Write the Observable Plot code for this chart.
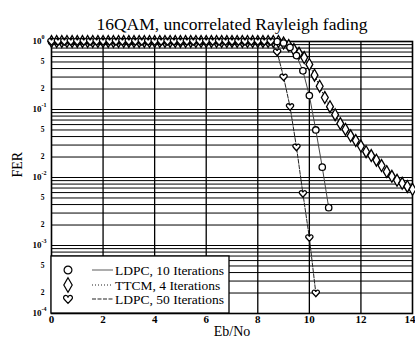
<!DOCTYPE html>
<html><head><meta charset="utf-8">
<script src="https://cdn.jsdelivr.net/npm/d3@7"></script>
<script src="https://cdn.jsdelivr.net/npm/@observablehq/plot@0.6"></script>
<style>
html,body{margin:0;padding:0;background:#fff;overflow:hidden}
#chart{position:relative;width:415px;height:345px}
</style></head><body><div id="chart"></div>
<script>
const title = "16QAM, uncorrelated Rayleigh fading";
const xLabel = "Eb/No";
const yLabel = "FER";
const seriesNames = ["LDPC, 10 Iterations", "TTCM, 4 Iterations", "LDPC, 50 Iterations"];

const xTicks = [0, 2, 4, 6, 8, 10, 12];
const xLastTick = [14];
const xGrid = [2, 4, 6, 8, 10, 12];
const yMajor = [1, 0.1, 0.01, 0.001, 0.0001];
const yMajorExp = ["0", "-1", "-2", "-3", "-4"];
const yMinor = [0.5, 0.2, 0.05, 0.02, 0.005, 0.002, 0.0005, 0.0002];
const yMinorLabels = ["5", "2", "5", "2", "5", "2", "5", "2"];
const yGrid = [0.9, 0.8, 0.7, 0.6, 0.5, 0.4, 0.3, 0.2, 0.1,
  0.09, 0.08, 0.07, 0.06, 0.05, 0.04, 0.03, 0.02, 0.01,
  0.009, 0.008, 0.007, 0.006, 0.005, 0.004, 0.003, 0.002, 0.001,
  0.0009, 0.0008, 0.0007, 0.0006, 0.0005, 0.0004, 0.0003, 0.0002];

// LDPC, 10 iterations (circles)
const ldpc10X = [0, 0.25, 0.5, 0.75, 1, 1.25, 1.5, 1.75, 2, 2.25, 2.5, 2.75, 3, 3.25, 3.5, 3.75,
  4, 4.25, 4.5, 4.75, 5, 5.25, 5.5, 5.75, 6, 6.25, 6.5, 6.75, 7, 7.25, 7.5, 7.75, 8, 8.25, 8.5, 8.75,
  9, 9.25, 9.5, 9.75, 10, 10.25, 10.5, 10.75];
const ldpc10Y = [1, 1, 1, 1, 1, 1, 1, 1, 1, 1, 1, 1, 1, 1, 1, 1,
  1, 1, 1, 1, 1, 1, 1, 1, 1, 1, 1, 1, 1, 1, 1, 1, 1, 1, 1, 1,
  0.95, 0.82, 0.62, 0.37, 0.16, 0.05, 0.0142, 0.0036];

// TTCM, 4 iterations (diamonds)
const ttcmX = [0, 0.2, 0.4, 0.6, 0.8, 1, 1.2, 1.4, 1.6, 1.8, 2, 2.2, 2.4, 2.6, 2.8, 3, 3.2, 3.4, 3.6, 3.8,
  4, 4.2, 4.4, 4.6, 4.8, 5, 5.2, 5.4, 5.6, 5.8, 6, 6.2, 6.4, 6.6, 6.8, 7, 7.2, 7.4, 7.6, 7.8,
  8, 8.2, 8.4, 8.6, 8.8, 9, 9.2, 9.4, 9.6, 9.8, 10, 10.2, 10.4, 10.6, 10.8, 11, 11.2, 11.4, 11.6, 11.8,
  12, 12.2, 12.4, 12.6, 12.8, 13, 13.2, 13.4, 13.6, 13.8, 14];
const ttcmY = [1, 1, 1, 1, 1, 1, 1, 1, 1, 1, 1, 1, 1, 1, 1, 1, 1, 1, 1, 1,
  1, 1, 1, 1, 1, 1, 1, 1, 1, 1, 1, 1, 1, 1, 1, 1, 1, 1, 1, 1,
  1, 1, 1, 1, 1, 0.95, 0.87, 0.76, 0.67, 0.58, 0.46, 0.32, 0.22, 0.15, 0.11, 0.084, 0.062, 0.051, 0.041, 0.035,
  0.029, 0.024, 0.021, 0.018, 0.015, 0.0122, 0.0104, 0.0091, 0.0082, 0.0074, 0.0067];

// LDPC, 50 iterations (hearts)
const ldpc50X = [0, 0.25, 0.5, 0.75, 1, 1.25, 1.5, 1.75, 2, 2.25, 2.5, 2.75, 3, 3.25, 3.5, 3.75,
  4, 4.25, 4.5, 4.75, 5, 5.25, 5.5, 5.75, 6, 6.25, 6.5, 6.75, 7, 7.25, 7.5, 7.75, 8, 8.25, 8.5,
  8.75, 9, 9.25, 9.5, 9.75, 10, 10.25];
const ldpc50Y = [1, 1, 1, 1, 1, 1, 1, 1, 1, 1, 1, 1, 1, 1, 1, 1,
  1, 1, 1, 1, 1, 1, 1, 1, 1, 1, 1, 1, 1, 1, 1, 1, 1, 1, 1,
  0.70, 0.30, 0.11, 0.028, 0.0058, 0.0013, 0.0002];

const toRows = (xs, ys) => xs.map((x, i) => ({x, y: ys[i]}));
const ldpc10 = toRows(ldpc10X, ldpc10Y);
const ttcm = toRows(ttcmX, ttcmY);
const ldpc50 = toRows(ldpc50X, ldpc50Y);

const heart = {
  draw(ctx, size) {
    const r = Math.sqrt(size / Math.PI) * 1.1;
    const a = r * 0.5;
    const cy = -r * 0.3;
    ctx.moveTo(0, r);
    ctx.lineTo(-a - a * Math.SQRT1_2, cy + a * Math.SQRT1_2);
    ctx.arc(-a, cy, a, 0.75 * Math.PI, 2 * Math.PI);
    ctx.arc(a, cy, a, Math.PI, 2.25 * Math.PI);
    ctx.closePath();
  }
};

const font = "'Liberation Serif', 'Times New Roman', serif";
const lineStyles = [
  {stroke: "#444", strokeWidth: 1, strokeDasharray: null},
  {stroke: "#222", strokeWidth: 1, strokeDasharray: "1,2"},
  {stroke: "#222", strokeWidth: 1, strokeDasharray: "4,1.5"}
];
const symbols = ["circle", "diamond", heart];
const symbolR = [3.2, 3.6, 3.3];

const chart = Plot.plot({
  width: 415,
  height: 345,
  marginLeft: 51,
  marginRight: 3,
  marginTop: 41,
  marginBottom: 32,
  style: {fontFamily: font, background: "white", overflow: "visible"},
  x: {domain: [0, 14], axis: null},
  y: {type: "log", domain: [0.0001, 1], axis: null},
  marks: [
    Plot.ruleY(yGrid, {stroke: "black", strokeWidth: 1}),
    Plot.ruleX(xGrid, {stroke: "black", strokeWidth: 1.3}),
    Plot.frame({stroke: "black", strokeWidth: 1.6}),
    Plot.line(ldpc10, {x: "x", y: "y", ...lineStyles[0]}),
    Plot.line(ttcm, {x: "x", y: "y", ...lineStyles[1]}),
    Plot.line(ldpc50, {x: "x", y: "y", ...lineStyles[2]}),
    Plot.dot(ttcm, {x: "x", y: "y", symbol: symbols[1], r: symbolR[1], fill: "white", stroke: "black", strokeWidth: 1.3}),
    Plot.dot(ldpc10, {x: "x", y: "y", symbol: symbols[0], r: symbolR[0], fill: "white", stroke: "black", strokeWidth: 1.3}),
    Plot.dot(ldpc50, {x: "x", y: "y", symbol: symbols[2], r: symbolR[2], fill: "white", stroke: "black", strokeWidth: 1.3}),
    Plot.text(xTicks, {x: d => d, frameAnchor: "bottom", dy: 9, text: d => String(d), fontSize: 11, fontWeight: "bold"}),
    Plot.text(xLastTick, {x: d => d, frameAnchor: "bottom", dy: 9, dx: 3, textAnchor: "end", text: d => String(d), fontSize: 11, fontWeight: "bold"}),
    Plot.text(yMajor, {y: d => d, frameAnchor: "left", dx: -10, textAnchor: "end", text: () => "10", fontSize: 9, fontWeight: "bold"}),
    Plot.text(yMajor, {y: d => d, frameAnchor: "left", dx: -10, dy: -4, textAnchor: "start", text: (d, i) => yMajorExp[i], fontSize: 6, fontWeight: "bold"}),
    Plot.text(yMinor, {y: d => d, frameAnchor: "left", dx: -7, textAnchor: "end", text: (d, i) => yMinorLabels[i], fontSize: 7.5, fontWeight: "bold"}),
    Plot.text([title], {frameAnchor: "top", dy: -24, fontSize: 17.5}),
    Plot.text([xLabel], {frameAnchor: "bottom", dy: 22, fontSize: 14}),
    Plot.text([yLabel], {frameAnchor: "left", dx: -34, rotate: -90, fontSize: 14})
  ]
});
document.getElementById("chart").appendChild(chart);

// legend box inside the plot, bottom-left
const xs = chart.scale("x"), ys = chart.scale("y");
const lx = xs.apply(0), lb = ys.apply(0.0001);
const svg = d3.select(chart);
const g = svg.append("g").attr("font-family", font).attr("text-anchor", "start");
g.append("rect").attr("x", lx).attr("y", lb - 57).attr("width", 178).attr("height", 57)
  .attr("fill", "white").attr("stroke", "black").attr("stroke-width", 1.3);
const rowY = [lb - 43, lb - 28, lb - 14];
const d3sym = [d3.symbolCircle, d3.symbolDiamond, heart];
seriesNames.forEach((name, i) => {
  const y = rowY[i];
  g.append("path")
    .attr("d", d3.symbol(d3sym[i], symbolR[i] * symbolR[i] * Math.PI * 1.5)())
    .attr("transform", `translate(${lx + 17},${y})`)
    .attr("fill", "white").attr("stroke", "black").attr("stroke-width", 1.2);
  g.append("line").attr("x1", lx + 41).attr("x2", lx + 62).attr("y1", y).attr("y2", y)
    .attr("stroke", i === 0 ? "#777" : lineStyles[i].stroke).attr("stroke-width", 1.2)
    .attr("stroke-dasharray", lineStyles[i].strokeDasharray);
  g.append("text").attr("x", lx + 64).attr("y", y).attr("dy", "0.35em")
    .attr("text-anchor", "start").attr("font-size", 13.5).text(name);
});
</script></body></html>
